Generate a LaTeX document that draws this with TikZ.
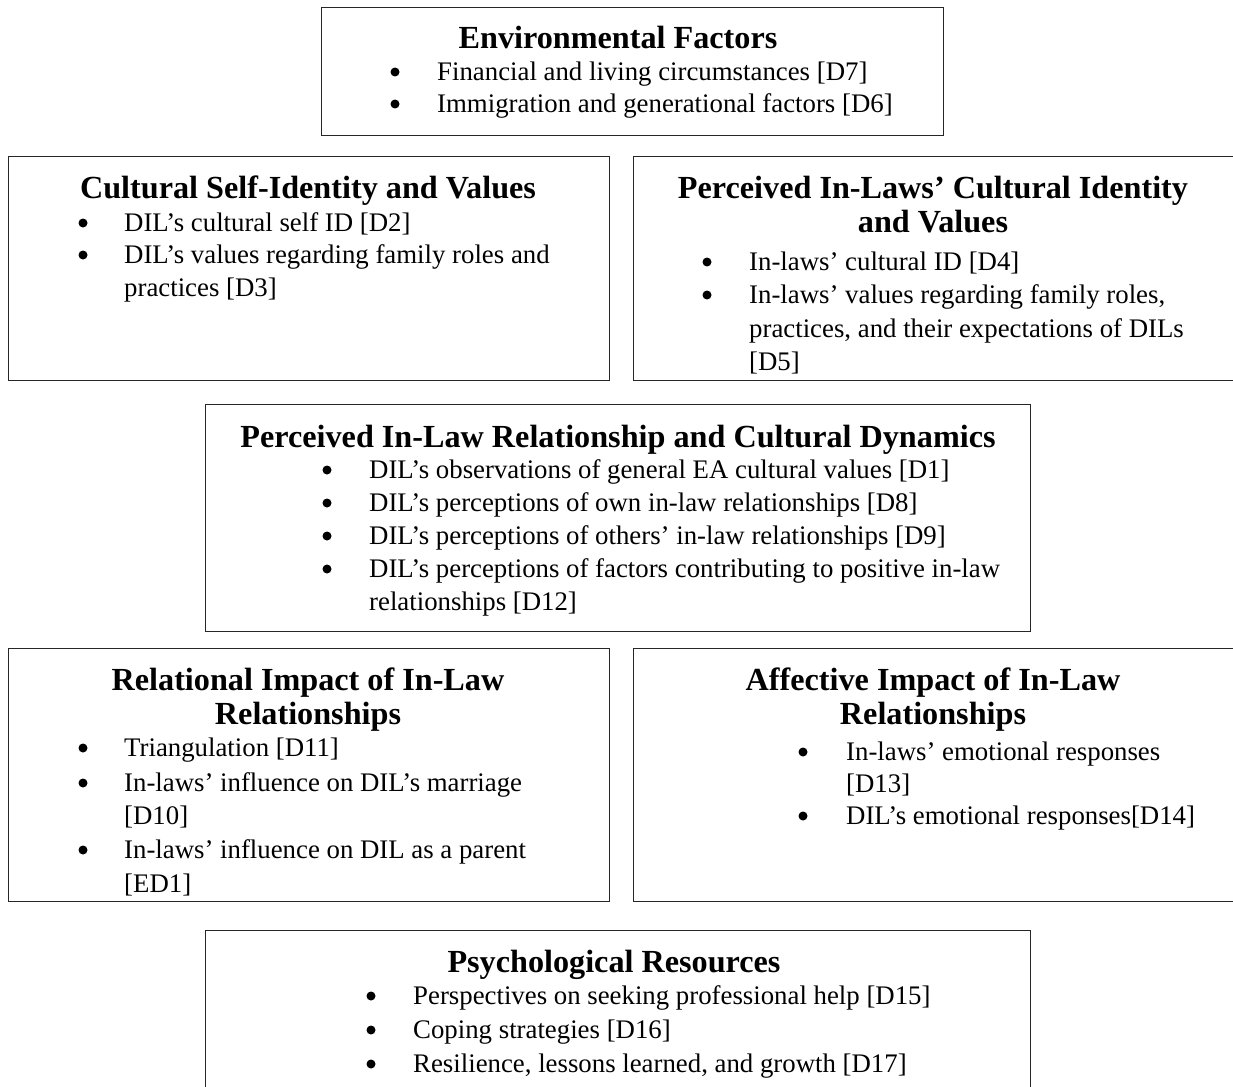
\documentclass[tikz,border=0pt]{standalone}
\usepackage{fontspec}
\setmainfont{Liberation Serif}
\begin{document}
\begin{tikzpicture}[x=1pt,y=-1pt,
  box/.style={draw=black!85, line width=1.2pt, inner sep=0pt, anchor=north west},
  ttl/.style={font=\bfseries\fontsize{32.2}{35}\selectfont, inner sep=0pt, anchor=base, yshift=-10.7pt},
  txt/.style={font=\fontsize{26.8}{31}\selectfont, inner sep=0pt, anchor=base west, yshift=-8.9pt},
  dot/.style={circle, fill=black, inner sep=0pt, minimum size=9pt}]
\useasboundingbox (0,0) rectangle (1233,1086);
\clip (0,0) rectangle (1233,1086);
\fill[white] (0,0) rectangle (1233,1086);

% Box 1
\node[box, minimum width=622pt, minimum height=128pt] (b1) at (321,7) {};
\node[ttl] (t1) at (618,38) {Environmental Factors};
\node[dot] (d11) at (395,72) {};
\node[txt] (l11) at (437,72) {Financial and living circumstances [D7]};
\node[dot] (d12) at (395,104) {};
\node[txt] (l12) at (437,104) {Immigration and generational factors [D6]};

% Box 2
\node[box, minimum width=601pt, minimum height=224pt] (b2) at (8,156) {};
\node[ttl] (t2) at (308,188) {Cultural Self-Identity and Values};
\node[dot] (d21) at (83,223) {};
\node[txt] (l21) at (124,223) {DIL’s cultural self ID [D2]};
\node[dot] (d22) at (83,255) {};
\node[txt] (l22) at (124,255) {DIL’s values regarding family roles and};
\node[txt] (l23) at (124,288) {practices [D3]};

% Box 3
\node[box, minimum width=640pt, minimum height=224pt] (b3) at (633,156) {};
\node[ttl] (t3a) at (933,188) {Perceived In-Laws’ Cultural Identity};
\node[ttl] (t3b) at (933,222) {and Values};
\node[dot] (d31) at (707,262) {};
\node[txt] (l31) at (749,262) {In-laws’ cultural ID [D4]};
\node[dot] (d32) at (707,295) {};
\node[txt] (l32) at (749,295) {In-laws’ values regarding family roles,};
\node[txt] (l33) at (749,329) {practices, and their expectations of DILs};
\node[txt] (l34) at (749,362) {[D5]};

% Box 4
\node[box, minimum width=825pt, minimum height=227pt] (b4) at (205,404) {};
\node[ttl] (t4) at (618,437) {Perceived In-Law Relationship and Cultural Dynamics};
\node[dot] (d41) at (327,470) {};
\node[txt] (l41) at (369,470) {DIL’s observations of general EA cultural values [D1]};
\node[dot] (d42) at (327,503) {};
\node[txt] (l42) at (369,503) {DIL’s perceptions of own in-law relationships [D8]};
\node[dot] (d43) at (327,536) {};
\node[txt] (l43) at (369,536) {DIL’s perceptions of others’ in-law relationships [D9]};
\node[dot] (d44) at (327,569) {};
\node[txt] (l44) at (369,569) {DIL’s perceptions of factors contributing to positive in-law};
\node[txt] (l45) at (369,602) {relationships [D12]};

% Box 5
\node[box, minimum width=601pt, minimum height=253pt] (b5) at (8,648) {};
\node[ttl] (t5a) at (308,680) {Relational Impact of In-Law};
\node[ttl] (t5b) at (308,714) {Relationships};
\node[dot] (d51) at (83,748) {};
\node[txt] (l51) at (124,748) {Triangulation [D11]};
\node[dot] (d52) at (83,783) {};
\node[txt] (l52) at (124,783) {In-laws’ influence on DIL’s marriage};
\node[txt] (l53) at (124,816) {[D10]};
\node[dot] (d54) at (83,850) {};
\node[txt] (l54) at (124,850) {In-laws’ influence on DIL as a parent};
\node[txt] (l55) at (124,884) {[ED1]};

% Box 6
\node[box, minimum width=640pt, minimum height=253pt] (b6) at (633,648) {};
\node[ttl] (t6a) at (933,680) {Affective Impact of In-Law};
\node[ttl] (t6b) at (933,714) {Relationships};
\node[dot] (d61) at (803,752) {};
\node[txt] (l61) at (846,752) {In-laws’ emotional responses};
\node[txt] (l62) at (846,784) {[D13]};
\node[dot] (d63) at (803,816) {};
\node[txt] (l63) at (846,816) {DIL’s emotional responses[D14]};

% Box 7
\node[box, minimum width=825pt, minimum height=200pt] (b7) at (205,930) {};
\node[ttl] (t7) at (614,962) {Psychological Resources};
\node[dot] (d71) at (371,996) {};
\node[txt] (l71) at (413,996) {Perspectives on seeking professional help [D15]};
\node[dot] (d72) at (371,1030) {};
\node[txt] (l72) at (413,1030) {Coping strategies [D16]};
\node[dot] (d73) at (371,1064) {};
\node[txt] (l73) at (413,1064) {Resilience, lessons learned, and growth [D17]};
\end{tikzpicture}
\end{document}
